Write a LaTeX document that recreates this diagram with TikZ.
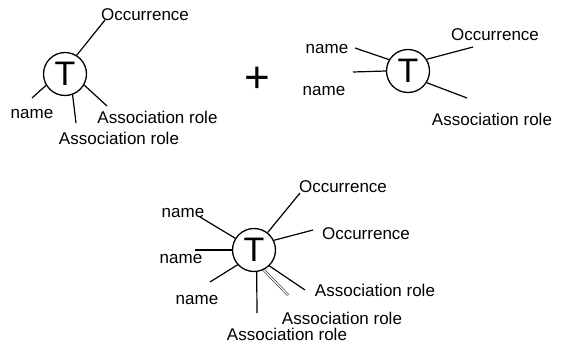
\documentclass[tikz,border=0pt]{standalone}
\usepackage{fontspec}
\setmainfont{Liberation Sans}
\begin{document}
\begin{tikzpicture}[x=1pt,y=-1pt,
  tcirc/.style={draw,circle,line width=1.3pt,minimum size=43pt,inner sep=0pt,font=\fontsize{34}{34}\selectfont},
  lbl/.style={inner sep=0pt,font=\fontsize{17}{17}\selectfont},
  link/.style={line width=1.2pt},
  dlink/.style={double,double distance=1.3pt,line width=0.5pt}]
\useasboundingbox (0,0) rectangle (566,343);
% top-left
\node[tcirc] (c1) at (65,74) {T};
\coordinate (o1e) at (105,20);
\coordinate (n1e) at (32,98);
\coordinate (a1e) at (76,123);
\coordinate (a2e) at (107,106);
\draw[link] (c1.58) -- (o1e);
\draw[link] (c1.211) -- (n1e);
\draw[link] (c1.-70) -- (a1e);
\draw[link] (c1.-30) -- (a2e);
\node[lbl] (t1o) at (145,15) {Occurrence};
\node[lbl] (t1n) at (32,114) {name};
\node[lbl] (t1a) at (119,138.5) {Association role};
\node[lbl] (t1b) at (157.5,117) {Association role};
% plus
\node[inner sep=0pt,font=\fontsize{44}{44}\selectfont] (plus) at (257,80) {+};
% top-right
\node[tcirc] (c2) at (408,71) {T};
\coordinate (n2e) at (355,48);
\coordinate (n3e) at (353,72);
\coordinate (o2e) at (473,47);
\coordinate (a3e) at (467,98);
\draw[link] (c2.149) -- (n2e);
\draw[link] (c2.180) -- (n3e);
\draw[link] (c2.32) -- (o2e);
\draw[link] (c2.-32) -- (a3e);
\node[lbl] (t2n1) at (327,49) {name};
\node[lbl] (t2n2) at (324,91) {name};
\node[lbl] (t2o) at (495,35) {Occurrence};
\node[lbl] (t2a) at (492,119) {Association role};
% bottom
\node[tcirc] (c3) at (254,250) {T};
\coordinate (b1e) at (200,217);
\coordinate (b2e) at (300,193);
\coordinate (b3e) at (313,230);
\coordinate (b4e) at (195,250);
\coordinate (b5e) at (210,282);
\coordinate (b6e) at (257,313);
\coordinate (b7e) at (288,295);
\coordinate (b8e) at (305,290);
\draw[link] (c3.148) -- (b1e);
\draw[link] (c3.52) -- (b2e);
\draw[link] (c3.26) -- (b3e);
\draw[link] (c3.180) -- (b4e);
\draw[link] (c3.222) -- (b5e);
\draw[link] (c3.-83) -- (b6e);
\draw[dlink] (c3.-64) -- (b7e);
\draw[link] (c3.-46) -- (b8e);
\node[lbl] (t3n1) at (183,213) {name};
\node[lbl] (t3n2) at (181,259) {name};
\node[lbl] (t3n3) at (197,300) {name};
\node[lbl] (t3o1) at (343,187) {Occurrence};
\node[lbl] (t3o2) at (366,234) {Occurrence};
\node[lbl] (t3a1) at (375,290) {Association role};
\node[lbl] (t3a2) at (342,318) {Association role};
\node[lbl] (t3a3) at (287,334) {Association role};
\end{tikzpicture}
\end{document}
